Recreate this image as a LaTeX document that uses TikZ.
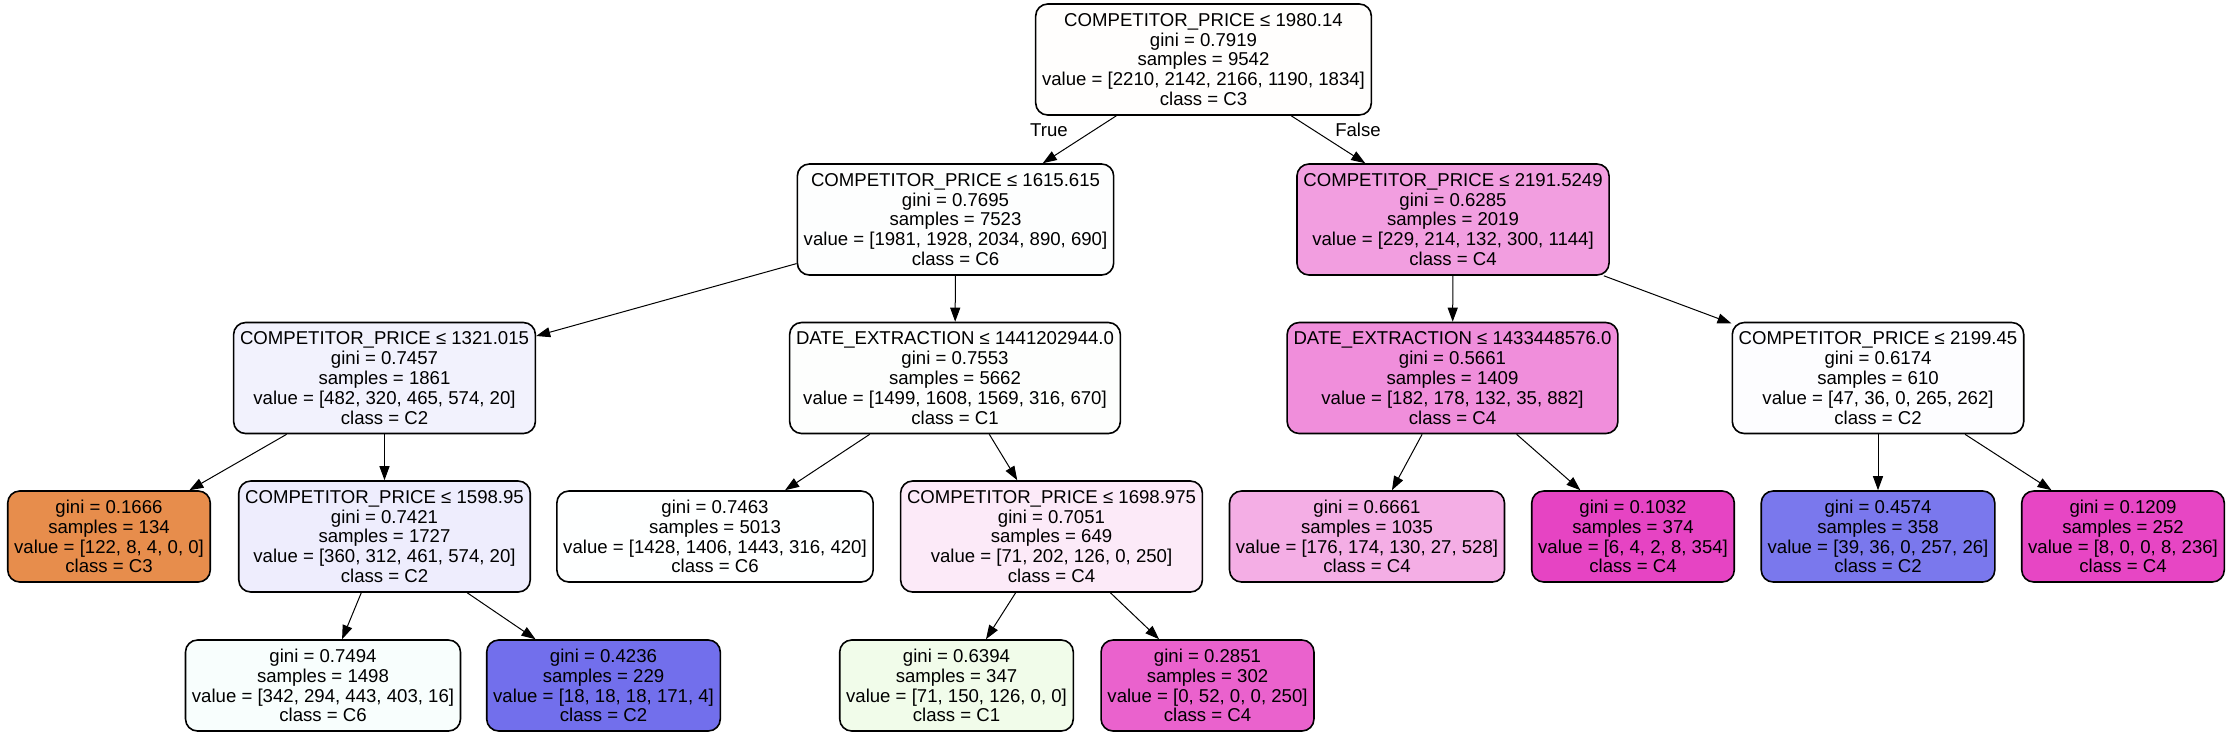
\documentclass[tikz,border=0pt]{standalone}
\usepackage{fontspec}
\setmainfont{Liberation Sans}
\usetikzlibrary{arrows.meta}
\definecolor{c0}{HTML}{FFFEFD}
\definecolor{c1}{HTML}{FDFEFE}
\definecolor{c2}{HTML}{F2F2FD}
\definecolor{c3}{HTML}{E78D4C}
\definecolor{c4}{HTML}{EEEDFD}
\definecolor{c5}{HTML}{F8FEFD}
\definecolor{c6}{HTML}{726FEC}
\definecolor{c7}{HTML}{FDFEFD}
\definecolor{c8}{HTML}{FEFFFF}
\definecolor{c9}{HTML}{FCEAF8}
\definecolor{c10}{HTML}{F1FCEA}
\definecolor{c11}{HTML}{EA62CD}
\definecolor{c12}{HTML}{F29EE0}
\definecolor{c13}{HTML}{F08EDB}
\definecolor{c14}{HTML}{F4AEE5}
\definecolor{c15}{HTML}{E644C3}
\definecolor{c16}{HTML}{FDFDFF}
\definecolor{c17}{HTML}{7A78ED}
\definecolor{c18}{HTML}{E746C4}
\tikzset{
  box/.style={draw, rounded corners=6pt, align=center, inner xsep=3.2pt,
    line width=0.8pt, font=\fontsize{9.3}{9.9}\selectfont},
  split/.style={box, minimum height=55.5pt},
  leaf/.style={box, minimum height=45.5pt},
  edge/.style={-{Triangle[length=7pt,width=5pt]}, line width=0.5pt},
  lbl/.style={font=\fontsize{9.3}{9.9}\selectfont}
}
\begin{document}
\begin{tikzpicture}[x=0.5pt,y=-0.5pt]
    \useasboundingbox (0,0) rectangle (2232,736);
    % level 0 and 1
    \node [split, fill=c0] (n0) at (1203.5,59.5) {COMPETITOR\_PRICE ≤ 1980.14\\gini = 0.7919\\samples = 9542\\value = [2210, 2142, 2166, 1190, 1834]\\class = C3};
    \node [split, fill=c1] (n1) at (955.5,219.5) {COMPETITOR\_PRICE ≤ 1615.615\\gini = 0.7695\\samples = 7523\\value = [1981, 1928, 2034, 890, 690]\\class = C6};
    \node [split, fill=c12] (n12) at (1453,219.5) {COMPETITOR\_PRICE ≤ 2191.5249\\gini = 0.6285\\samples = 2019\\value = [229, 214, 132, 300, 1144]\\class = C4};
    % level 2
    \node [split, fill=c2] (n2) at (384.5,378) {COMPETITOR\_PRICE ≤ 1321.015\\gini = 0.7457\\samples = 1861\\value = [482, 320, 465, 574, 20]\\class = C2};
    \node [split, fill=c7] (n7) at (955,378) {DATE\_EXTRACTION ≤ 1441202944.0\\gini = 0.7553\\samples = 5662\\value = [1499, 1608, 1569, 316, 670]\\class = C1};
    \node [split, fill=c13] (n13) at (1452.5,378) {DATE\_EXTRACTION ≤ 1433448576.0\\gini = 0.5661\\samples = 1409\\value = [182, 178, 132, 35, 882]\\class = C4};
    \node [split, fill=c16] (n16) at (1878,378) {COMPETITOR\_PRICE ≤ 2199.45\\gini = 0.6174\\samples = 610\\value = [47, 36, 0, 265, 262]\\class = C2};
    % level 3
    \node [leaf, fill=c3] (n3) at (109,536.5) {gini = 0.1666\\samples = 134\\value = [122, 8, 4, 0, 0]\\class = C3};
    \node [split, fill=c4] (n4) at (384.5,536.5) {COMPETITOR\_PRICE ≤ 1598.95\\gini = 0.7421\\samples = 1727\\value = [360, 312, 461, 574, 20]\\class = C2};
    \node [leaf, fill=c8] (n8) at (715,536.5) {gini = 0.7463\\samples = 5013\\value = [1428, 1406, 1443, 316, 420]\\class = C6};
    \node [split, fill=c9] (n9) at (1051.5,536.5) {COMPETITOR\_PRICE ≤ 1698.975\\gini = 0.7051\\samples = 649\\value = [71, 202, 126, 0, 250]\\class = C4};
    \node [leaf, fill=c14] (n14) at (1367,536.5) {gini = 0.6661\\samples = 1035\\value = [176, 174, 130, 27, 528]\\class = C4};
    \node [leaf, fill=c15] (n15) at (1633,536.5) {gini = 0.1032\\samples = 374\\value = [6, 4, 2, 8, 354]\\class = C4};
    \node [leaf, fill=c17] (n17) at (1878,536.5) {gini = 0.4574\\samples = 358\\value = [39, 36, 0, 257, 26]\\class = C2};
    \node [leaf, fill=c18] (n18) at (2123,536.5) {gini = 0.1209\\samples = 252\\value = [8, 0, 0, 8, 236]\\class = C4};
    % level 4
    \node [leaf, fill=c5] (n5) at (323,685.5) {gini = 0.7494\\samples = 1498\\value = [342, 294, 443, 403, 16]\\class = C6};
    \node [leaf, fill=c6] (n6) at (603.5,685.5) {gini = 0.4236\\samples = 229\\value = [18, 18, 18, 171, 4]\\class = C2};
    \node [leaf, fill=c10] (n10) at (956.5,685.5) {gini = 0.6394\\samples = 347\\value = [71, 150, 126, 0, 0]\\class = C1};
    \node [leaf, fill=c11] (n11) at (1207.5,685.5) {gini = 0.2851\\samples = 302\\value = [0, 52, 0, 0, 250]\\class = C4};
    % edges
    \draw [edge] (n0) -- (n1);
    \draw [edge] (n0) -- (n12);
    \node [lbl] (true) at (1049,130) {True};
    \node [lbl] (false) at (1358,130) {False};
    \draw [edge] (n1) -- (n2);
    \draw [edge] (n1) -- (n7);
    \draw [edge] (n2) -- (n3);
    \draw [edge] (n2) -- (n4);
    \draw [edge] (n4) -- (n5);
    \draw [edge] (n4) -- (n6);
    \draw [edge] (n7) -- (n8);
    \draw [edge] (n7) -- (n9);
    \draw [edge] (n9) -- (n10);
    \draw [edge] (n9) -- (n11);
    \draw [edge] (n12) -- (n13);
    \draw [edge] (n12) -- (n16);
    \draw [edge] (n13) -- (n14);
    \draw [edge] (n13) -- (n15);
    \draw [edge] (n16) -- (n17);
    \draw [edge] (n16) -- (n18);
\end{tikzpicture}
\end{document}
